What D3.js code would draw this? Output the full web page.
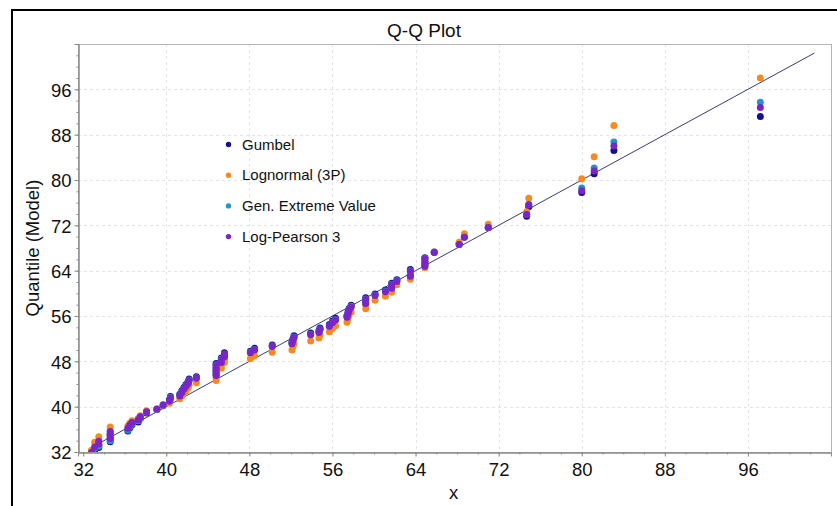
<!DOCTYPE html>
<html>
<head>
<meta charset="utf-8">
<script src="https://cdn.jsdelivr.net/npm/d3@7/dist/d3.min.js"></script>
<style>
  html, body { margin: 0; padding: 0; background: #fff; }
  svg { display: block; font-family: Arial, "Liberation Sans", sans-serif; }
</style>
</head>
<body>
<svg id="chart" width="837" height="506"></svg>
<script>
// Observed sample values (sorted, ties repeated)
const observed = [
  32.8, 33.1, 33.5, 33.5, 34.6, 34.6, 34.6, 36.3, 36.5, 36.7,
  37.3, 37.5, 38.1, 39.1, 39.7, 40.3, 40.4, 41.3, 41.5, 41.7,
  41.9, 42.1, 42.2, 42.9, 44.8, 44.8, 44.8, 44.8, 45.3, 45.3,
  45.6, 45.6, 48.1, 48.5, 50.2, 52.1, 52.2, 52.3, 53.9, 54.7,
  54.8, 55.7, 56.0, 56.3, 57.4, 57.5, 57.6, 57.8, 59.2, 59.2,
  60.1, 61.1, 61.7, 61.7, 62.2, 63.5, 63.5, 64.9, 64.9, 64.9,
  65.8, 68.2, 68.7, 71.0, 74.7, 74.9, 80.0, 81.2, 83.1, 97.2
];

// Model quantiles for each fitted distribution, one per observation
const gumbel = [
  31.5, 32.3, 32.8, 33.2, 33.8, 34.4, 35.0, 35.7, 36.3, 36.8,
  37.3, 37.9, 38.9, 39.5, 40.3, 41.2, 41.8, 42.2, 42.8, 43.4,
  43.9, 44.4, 44.9, 45.3, 45.8, 46.4, 47.0, 47.6, 48.1, 48.6,
  49.1, 49.5, 49.8, 50.3, 50.9, 51.4, 52.0, 52.5, 53.0, 53.4,
  53.9, 54.5, 55.1, 55.6, 56.1, 56.7, 57.3, 57.9, 58.5, 59.2,
  59.9, 60.6, 61.2, 61.8, 62.4, 63.3, 64.2, 65.1, 65.7, 66.3,
  67.3, 68.7, 70.0, 71.6, 73.6, 75.3, 77.8, 81.1, 85.2, 91.2
];
const lognormal3P = [
  32.3, 33.7, 34.0, 34.7, 35.0, 35.7, 36.4, 36.6, 37.1, 37.5,
  37.9, 38.4, 39.3, 39.6, 40.1, 40.6, 41.1, 41.4, 41.9, 42.4,
  42.8, 43.3, 43.8, 44.2, 44.6, 45.1, 45.7, 46.3, 46.8, 47.3,
  47.8, 48.2, 48.5, 49.0, 49.6, 50.0, 50.6, 51.1, 51.6, 52.1,
  52.6, 53.2, 53.8, 54.3, 54.9, 55.5, 56.1, 56.7, 57.3, 58.0,
  58.8, 59.5, 60.2, 60.8, 61.5, 62.5, 63.4, 64.5, 65.2, 65.9,
  67.2, 69.0, 70.5, 72.2, 74.4, 76.8, 80.2, 84.1, 89.6, 98.0
];
const genExtremeValue = [
  31.7, 32.6, 33.0, 33.5, 34.0, 34.7, 35.3, 35.9, 36.5, 37.0,
  37.5, 38.0, 39.0, 39.5, 40.2, 41.0, 41.6, 42.0, 42.6, 43.2,
  43.7, 44.2, 44.7, 45.1, 45.6, 46.2, 46.8, 47.4, 47.9, 48.4,
  48.9, 49.3, 49.6, 50.1, 50.7, 51.2, 51.8, 52.3, 52.8, 53.2,
  53.7, 54.3, 54.9, 55.4, 55.9, 56.5, 57.1, 57.7, 58.3, 59.0,
  59.7, 60.4, 61.0, 61.6, 62.2, 63.1, 64.0, 64.9, 65.5, 66.2,
  67.2, 68.6, 69.9, 71.6, 73.9, 75.7, 78.6, 82.1, 86.7, 93.7
];
const logPearson3 = [
  31.9, 32.9, 33.4, 33.9, 34.4, 35.0, 35.6, 36.2, 36.8, 37.2,
  37.7, 38.2, 39.1, 39.6, 40.3, 41.0, 41.5, 41.9, 42.5, 43.1,
  43.6, 44.1, 44.6, 45.0, 45.5, 46.1, 46.7, 47.3, 47.8, 48.3,
  48.8, 49.2, 49.5, 50.0, 50.6, 51.1, 51.7, 52.2, 52.7, 53.1,
  53.6, 54.2, 54.8, 55.3, 55.8, 56.4, 57.0, 57.6, 58.2, 58.9,
  59.6, 60.3, 60.9, 61.5, 62.1, 63.0, 63.9, 64.8, 65.4, 66.1,
  67.2, 68.6, 69.9, 71.6, 73.9, 75.6, 78.1, 81.6, 86.0, 92.8
];

const seriesNames = ["Gumbel", "Lognormal (3P)", "Gen. Extreme Value", "Log-Pearson 3"];
const seriesColors = ["#12128c", "#f68a1e", "#2493c9", "#7b24c8"];
const seriesValues = [gumbel, lognormal3P, genExtremeValue, logPearson3];

const xTicks = [32, 40, 48, 56, 64, 72, 80, 88, 96];
const yTicks = [32, 40, 48, 56, 64, 72, 80, 88, 96];
const xDomain = [31.5, 104];
const yDomain = [32, 104];
const refLine = [32.8, 102.4];   // extent of the y = x reference line

const svg = d3.select("#chart");
const plot = { left: 78, top: 44, right: 831, bottom: 452 };

// outer frame
svg.append("rect")
  .attr("x", 12).attr("y", 10).attr("width", 840).attr("height", 520)
  .attr("fill", "#fff").attr("stroke", "#000").attr("stroke-width", 2);

const x = d3.scaleLinear().domain(xDomain).range([plot.left, plot.right]);
const y = d3.scaleLinear().domain(yDomain).range([plot.bottom, plot.top]);

// title
svg.append("text")
  .attr("x", 424).attr("y", 37)
  .attr("text-anchor", "middle")
  .attr("font-size", 19).attr("fill", "#111")
  .text("Q-Q Plot");

// grid
const grid = svg.append("g").attr("stroke", "#e4e4e4").attr("stroke-width", 1)
  .attr("stroke-dasharray", "3,3");
grid.selectAll("line.gx").data(xTicks.slice(1)).join("line")
  .attr("x1", d => Math.round(x(d)) + 0.5).attr("x2", d => Math.round(x(d)) + 0.5)
  .attr("y1", plot.top).attr("y2", plot.bottom);
grid.selectAll("line.gy").data(yTicks.slice(1)).join("line")
  .attr("x1", plot.left).attr("x2", plot.right)
  .attr("y1", d => Math.round(y(d)) + 0.5).attr("y2", d => Math.round(y(d)) + 0.5);

// plot frame
svg.append("rect")
  .attr("x", plot.left + 0.5).attr("y", plot.top + 0.5)
  .attr("width", plot.right - plot.left).attr("height", plot.bottom - plot.top)
  .attr("fill", "none").attr("stroke", "#b4b4b4");

// axes
const minorX = d3.range(32, 104, 2);
const minorY = d3.range(32, 104, 2);

const xAxis = svg.append("g")
  .attr("transform", `translate(0,${plot.bottom + 0.5})`)
  .call(d3.axisBottom(x).tickValues(xTicks).tickSize(4).tickPadding(6).tickFormat(d3.format("d")));
const xMinor = svg.append("g")
  .attr("transform", `translate(0,${plot.bottom + 0.5})`)
  .call(d3.axisBottom(x).tickValues(minorX).tickSize(2).tickFormat(""));
const yAxis = svg.append("g")
  .attr("transform", `translate(${plot.left + 0.5},0)`)
  .call(d3.axisLeft(y).tickValues(yTicks).tickSize(4).tickPadding(3).tickFormat(d3.format("d")));
const yMinor = svg.append("g")
  .attr("transform", `translate(${plot.left + 0.5},0)`)
  .call(d3.axisLeft(y).tickValues(minorY).tickSize(2).tickFormat(""));

[xAxis, xMinor, yAxis, yMinor].forEach(g => {
  g.select(".domain").attr("stroke", "#8a8a8a");
  g.selectAll(".tick line").attr("stroke", "#8a8a8a");
  g.selectAll(".tick text").attr("font-size", 18.5).attr("fill", "#111")
    .attr("font-family", "Arial, 'Liberation Sans', sans-serif");
});
yAxis.selectAll(".tick text").attr("dy", "0.36em");

// axis titles
svg.append("text")
  .attr("x", (plot.left + plot.right) / 2 - 1).attr("y", 499)
  .attr("text-anchor", "middle").attr("font-size", 18.5).attr("fill", "#111")
  .text("x");
svg.append("text")
  .attr("transform", `translate(39,${(plot.top + plot.bottom) / 2}) rotate(-90)`)
  .attr("text-anchor", "middle").attr("font-size", 18.5).attr("fill", "#111")
  .text("Quantile (Model)");

// clip for marks
svg.append("clipPath").attr("id", "plotClip")
  .append("rect").attr("x", plot.left + 1).attr("y", plot.top)
  .attr("width", plot.right - plot.left).attr("height", plot.bottom - plot.top);

const marks = svg.append("g").attr("clip-path", "url(#plotClip)");

// y = x reference line
marks.append("line")
  .attr("x1", x(refLine[0])).attr("y1", y(refLine[0]))
  .attr("x2", x(refLine[1])).attr("y2", y(refLine[1]))
  .attr("stroke", "#3c3c78").attr("stroke-width", 1);

// points, one layer per distribution
seriesValues.forEach((vals, i) => {
  marks.append("g").selectAll("circle")
    .data(observed.map((o, k) => [o, vals[k]]))
    .join("circle")
    .attr("cx", d => x(d[0]))
    .attr("cy", d => y(d[1]))
    .attr("r", 3.5)
    .attr("fill", seriesColors[i]);
});

// legend
const legend = svg.append("g");
seriesNames.forEach((name, i) => {
  const ly = 144.5 + i * 30.7;
  legend.append("circle").attr("cx", 228.5).attr("cy", ly).attr("r", 2.7)
    .attr("fill", seriesColors[i]);
  legend.append("text").attr("x", 242).attr("y", ly + 5)
    .attr("font-size", 15).attr("fill", "#111").text(name);
});
</script>
</body>
</html>
